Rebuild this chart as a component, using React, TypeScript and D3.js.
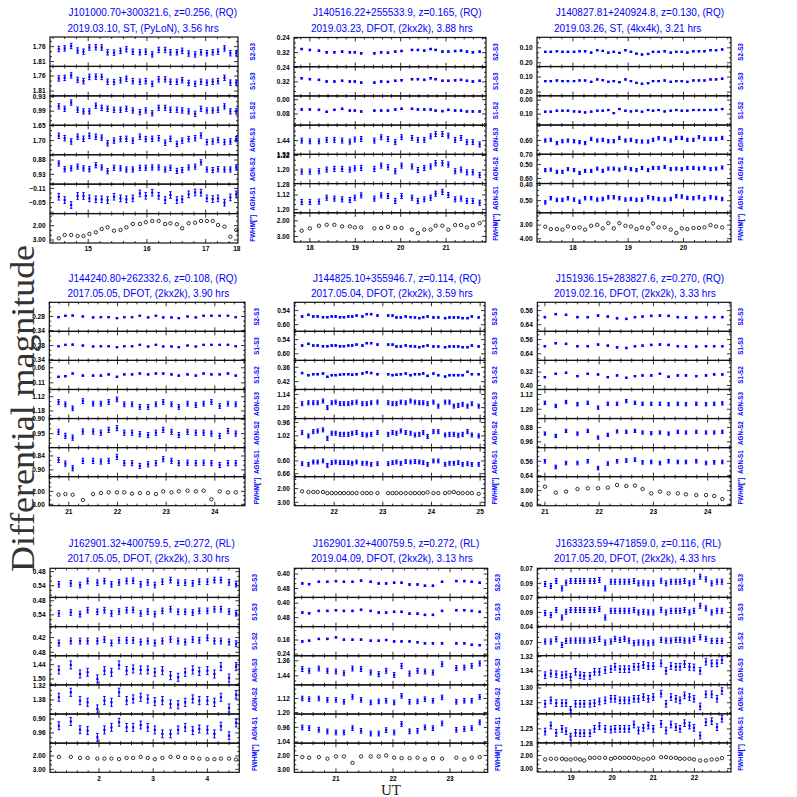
import React from 'react';
import * as d3 from 'd3';

const rowLabels = ['S2-S3', 'S1-S3', 'S1-S2', 'AGN-S3', 'AGN-S2', 'AGN-S1', 'FWHM[″]'];
const yAxisTitle = 'Differential magnitude';
const xAxisTitle = 'UT';

// ---------- Panel 1 ----------
const p1Title = 'J101000.70+300321.6, z=0.256, (RQ)';
const p1Sub = '2019.03.10, ST, (PyLoN), 3.56 hrs';
const p1Time = [14.50,14.60,14.71,14.82,14.92,15.02,15.13,15.23,15.33,15.44,15.55,15.65,15.76,15.88,15.98,16.09,16.20,16.31,16.40,16.51,16.60,16.71,16.82,16.92,17.02,17.12,17.21,17.32,17.42,17.52];
const p1S23 = [1.768,1.766,1.758,1.773,1.777,1.763,1.762,1.763,1.779,1.780,1.774,1.769,1.777,1.779,1.777,1.786,1.771,1.771,1.779,1.779,1.774,1.783,1.786,1.779,1.782,1.779,1.777,1.766,1.782,1.782];
const p1S12 = [0.970,0.980,0.954,0.984,0.991,0.991,0.967,0.976,0.980,0.984,0.984,0.980,0.987,0.994,0.987,0.999,0.976,0.976,0.984,0.984,0.987,0.991,1.001,0.980,0.987,0.987,0.984,0.970,0.991,0.991];
const p1A3 = [1.684,1.692,1.703,1.687,1.694,1.684,1.687,1.690,1.709,1.700,1.695,1.694,1.700,1.687,1.695,1.694,1.692,1.707,1.694,1.711,1.700,1.695,1.692,1.683,1.705,1.703,1.698,1.705,1.703,1.695];
const p1A2 = [0.892,0.912,0.909,0.903,0.909,0.912,0.898,0.906,0.919,0.907,0.909,0.913,0.913,0.907,0.907,0.906,0.906,0.913,0.907,0.918,0.915,0.906,0.903,0.888,0.913,0.915,0.912,0.913,0.913,0.906];
const p1A1 = [-0.075,-0.061,-0.040,-0.078,-0.078,-0.068,-0.064,-0.064,-0.061,-0.075,-0.068,-0.064,-0.068,-0.089,-0.079,-0.092,-0.079,-0.061,-0.082,-0.061,-0.064,-0.085,-0.093,-0.092,-0.068,-0.065,-0.068,-0.050,-0.072,-0.085];
const p1Fwhm = [2.88,2.65,2.65,2.72,2.72,2.58,2.46,2.23,2.11,2.35,2.30,2.11,1.88,1.88,1.76,1.67,1.67,1.88,1.83,1.90,2.18,1.83,1.79,1.67,1.67,1.67,1.95,2.07,2.77,2.30];
const p1Err = [0.009, 0.011, 0.009, 0.009, 0.014];
const p1XDomain = [14.35, 17.55];
const p1XTicks = [15, 16, 17, 17.53];
const p1XLabels = ['15', '16', '17', '18'];
const p1YDomains = [[1.728, 1.826], [0.926, 1.049], [1.649, 1.747], [0.8615, 0.964], [-0.128, -0.004], [1.153, 3.21]];
const p1YTicks = [[1.76, 1.81], [0.93, 0.99], [1.65, 1.70], [0.88, 0.93], [-0.11, -0.05], [2, 3]];

// ---------- Panel 2 ----------
const p2Title = 'J140516.22+255533.9, z=0.165, (RQ)';
const p2Sub = '2019.03.23, DFOT, (2kx2k), 3.88 hrs';
const p2Time = [17.82,18.00,18.20,18.37,18.54,18.71,18.88,18.99,19.13,19.42,19.57,19.72,19.88,20.02,20.25,20.38,20.52,20.66,20.77,20.92,21.05,21.20,21.33,21.46,21.59,21.74];
const p2S23 = [0.300,0.305,0.309,0.318,0.318,0.314,0.318,0.318,0.324,0.324,0.318,0.320,0.314,0.311,0.305,0.305,0.309,0.300,0.305,0.314,0.314,0.311,0.309,0.314,0.318,0.314];
const p2S12 = [0.055,0.055,0.057,0.068,0.057,0.051,0.061,0.061,0.066,0.061,0.061,0.061,0.055,0.051,0.051,0.055,0.055,0.055,0.061,0.064,0.057,0.061,0.061,0.066,0.066,0.066];
const p2A3 = [1.440,1.444,1.444,1.436,1.436,1.440,1.446,1.434,1.431,1.440,1.421,1.431,1.449,1.421,1.425,1.436,1.436,1.416,1.403,1.403,1.412,1.436,1.425,1.449,1.449,1.462];
const p2A2 = [1.209,1.209,1.207,1.198,1.194,1.194,1.198,1.191,1.189,1.194,1.176,1.185,1.207,1.176,1.181,1.200,1.189,1.181,1.163,1.163,1.170,1.207,1.198,1.213,1.213,1.228];
const p2A1 = [1.159,1.159,1.157,1.135,1.140,1.144,1.148,1.135,1.122,1.140,1.122,1.126,1.153,1.126,1.135,1.153,1.144,1.135,1.113,1.103,1.120,1.144,1.140,1.153,1.153,1.163];
const p2Fwhm = [2.63,2.48,2.31,2.25,2.25,2.35,2.35,2.42,2.42,2.48,2.46,2.38,2.46,2.46,2.56,2.79,2.56,2.56,2.31,2.31,2.56,2.27,2.27,2.42,2.27,2.15];
const p2Err = [0.004, 0.004, 0.014, 0.014, 0.014];
const p2XDomain = [17.65, 21.88];
const p2XTicks = [18, 19, 20, 21];
const p2XLabels = ['18', '19', '20', '21'];
const p2YDomains = [[0.236, 0.398], [-0.021, 0.1425], [1.3526, 1.518], [1.1144, 1.2744], [1.0568, 1.2186], [1.479, 3.354]];
const p2YTicks = [[0.24, 0.32], [0.00, 0.08], [1.44, 1.52], [1.12, 1.20, 1.28], [1.12, 1.20], [2, 3]];

// ---------- Panel 3 ----------
const p3Title = 'J140827.81+240924.8, z=0.130, (RQ)';
const p3Sub = '2019.03.26, ST, (4kx4k), 3.21 hrs';
const p3Time = [17.50,17.60,17.71,17.81,17.91,18.02,18.12,18.22,18.33,18.44,18.54,18.64,18.74,18.84,18.95,19.05,19.15,19.25,19.36,19.45,19.55,19.66,19.77,19.87,19.97,20.07,20.18,20.28,20.38,20.49,20.59,20.70];
const p3S23 = [0.127,0.127,0.123,0.127,0.127,0.127,0.123,0.123,0.132,0.116,0.121,0.132,0.127,0.134,0.116,0.127,0.139,0.145,0.141,0.127,0.127,0.123,0.132,0.127,0.127,0.132,0.123,0.123,0.123,0.116,0.116,0.111];
const p3S12 = [0.083,0.083,0.076,0.076,0.076,0.081,0.083,0.088,0.083,0.076,0.076,0.071,0.093,0.064,0.076,0.081,0.076,0.083,0.071,0.076,0.071,0.081,0.076,0.071,0.076,0.076,0.071,0.071,0.071,0.071,0.069,0.064];
const p3A3 = [0.600,0.595,0.618,0.605,0.600,0.605,0.611,0.618,0.589,0.600,0.595,0.605,0.605,0.582,0.600,0.595,0.605,0.607,0.607,0.595,0.584,0.589,0.600,0.582,0.582,0.595,0.595,0.577,0.589,0.589,0.589,0.582];
const p3A2 = [0.540,0.536,0.552,0.552,0.533,0.540,0.560,0.545,0.545,0.529,0.545,0.529,0.529,0.536,0.524,0.533,0.540,0.524,0.540,0.524,0.524,0.517,0.533,0.529,0.533,0.524,0.524,0.529,0.524,0.533,0.529,0.521];
const p3A1 = [0.511,0.484,0.495,0.495,0.484,0.493,0.507,0.484,0.484,0.493,0.489,0.478,0.478,0.484,0.493,0.489,0.495,0.493,0.478,0.484,0.489,0.493,0.489,0.471,0.473,0.482,0.484,0.478,0.489,0.478,0.482,0.489];
const p3Fwhm = [3.12,3.29,3.29,3.33,3.10,3.21,3.17,3.33,3.05,2.98,3.24,2.86,3.24,2.86,3.05,3.10,3.29,3.17,3.24,2.88,3.17,3.17,3.33,3.57,3.24,3.29,3.21,3.21,3.17,3.00,3.10,3.17];
const p3Err = [0.004, 0.004, 0.011, 0.011, 0.011];
const p3XDomain = [17.35, 20.86];
const p3XTicks = [18, 19, 20];
const p3XLabels = ['18', '19', '20'];
const p3YDomains = [[0.03, 0.225], [-0.031, 0.1785], [0.493, 0.695], [0.426, 0.636], [0.389, 0.578], [2.095, 4.238]];
const p3YTicks = [[0.10, 0.20], [0.00, 0.10], [0.60, 0.70], [0.50, 0.60], [0.40, 0.50], [3, 4]];

// ---------- Panel 4 ----------
const p4Title = 'J144240.80+262332.6, z=0.108, (RQ)';
const p4Sub = '2017.05.05, DFOT, (2kx2k), 3.90 hrs';
const p4Time = [20.79,20.93,21.08,21.29,21.50,21.66,21.82,21.99,22.14,22.30,22.46,22.63,22.79,22.94,23.11,23.26,23.44,23.61,23.77,23.93,24.10,24.27,24.43];
const p4S23 = [0.283,0.277,0.276,0.280,0.284,0.283,0.283,0.287,0.283,0.283,0.277,0.284,0.277,0.284,0.284,0.287,0.280,0.284,0.277,0.277,0.277,0.277,0.283];
const p4S12 = [0.090,0.088,0.079,0.086,0.086,0.086,0.082,0.090,0.082,0.082,0.079,0.082,0.079,0.079,0.082,0.086,0.082,0.086,0.079,0.082,0.082,0.079,0.086];
const p4A3 = [1.142,1.152,1.169,1.138,1.149,1.149,1.142,1.131,1.152,1.152,1.163,1.163,1.152,1.142,1.152,1.163,1.149,1.155,1.149,1.142,1.159,1.149,1.152];
const p4A2 = [0.944,0.958,0.964,0.943,0.943,0.947,0.937,0.931,0.947,0.947,0.952,0.955,0.947,0.937,0.944,0.955,0.944,0.947,0.947,0.950,0.958,0.941,0.950];
const p4A1 = [0.857,0.873,0.893,0.861,0.861,0.864,0.861,0.844,0.871,0.871,0.883,0.876,0.871,0.854,0.861,0.871,0.869,0.871,0.869,0.871,0.879,0.871,0.871];
const p4Fwhm = [2.26,2.21,2.26,2.66,2.21,2.13,2.08,2.08,2.08,2.18,2.13,2.13,2.21,2.00,2.08,2.00,1.95,2.00,1.95,2.61,2.00,2.08,2.08];
const p4Err = [0.002, 0.002, 0.010, 0.009, 0.011];
const p4XDomain = [20.60, 24.62];
const p4XTicks = [21, 22, 23, 24];
const p4XLabels = ['21', '22', '23', '24'];
const p4YDomains = [[0.22, 0.343], [0.0356, 0.132], [1.089, 1.212], [0.8977, 0.9986], [0.804, 0.929], [0.868, 3.105]];
const p4YTicks = [[0.28, 0.34], [0.06, 0.11], [1.12, 1.18], [0.90, 0.95], [0.84, 0.90], [2, 3]];

// ---------- Panel 5 ----------
const p5Title = 'J144825.10+355946.7, z=0.114, (RQ)';
const p5Sub = '2017.05.04, DFOT, (2kx2k), 3.59 hrs';
const p5Time = [21.34,21.47,21.57,21.66,21.77,21.86,21.95,22.03,22.12,22.20,22.29,22.37,22.46,22.58,22.67,22.76,22.89,23.11,23.20,23.28,23.37,23.47,23.57,23.66,23.75,23.83,23.92,24.04,24.14,24.28,24.37,24.46,24.55,24.64,24.74,24.83,24.97];
const p5S23 = [0.565,0.558,0.565,0.565,0.568,0.568,0.565,0.565,0.568,0.568,0.565,0.565,0.561,0.565,0.555,0.555,0.561,0.561,0.561,0.569,0.569,0.565,0.568,0.569,0.572,0.568,0.565,0.569,0.569,0.572,0.569,0.569,0.569,0.572,0.572,0.565,0.569];
const p5S12 = [0.384,0.393,0.389,0.389,0.386,0.400,0.393,0.393,0.391,0.389,0.389,0.391,0.389,0.386,0.381,0.384,0.389,0.389,0.393,0.391,0.389,0.386,0.393,0.389,0.389,0.386,0.396,0.386,0.393,0.399,0.393,0.393,0.393,0.393,0.379,0.389,0.389];
const p5A3 = [1.182,1.178,1.178,1.178,1.170,1.200,1.178,1.175,1.182,1.182,1.182,1.178,1.175,1.182,1.182,1.178,1.175,1.178,1.182,1.182,1.175,1.178,1.170,1.175,1.178,1.178,1.182,1.175,1.193,1.175,1.175,1.193,1.190,1.185,1.193,1.182,1.193];
const p5A2 = [1.005,1.020,1.001,0.998,0.993,1.031,1.008,1.008,1.013,1.013,1.013,1.008,1.005,1.013,1.016,1.013,1.005,1.013,1.005,1.008,0.998,1.005,1.008,1.016,1.013,1.005,1.023,1.001,1.001,1.016,1.013,1.013,1.017,1.013,1.001,1.016,1.020];
const p5A1 = [0.613,0.616,0.605,0.605,0.600,0.621,0.608,0.605,0.608,0.608,0.608,0.611,0.605,0.611,0.611,0.616,0.613,0.613,0.608,0.605,0.611,0.603,0.605,0.603,0.605,0.608,0.616,0.600,0.600,0.616,0.611,0.611,0.608,0.616,0.613,0.616,0.616];
const p5Fwhm = [2.20,2.25,2.25,2.25,2.25,2.33,2.33,2.33,2.33,2.33,2.33,2.33,2.33,2.33,2.33,2.33,2.33,2.33,2.33,2.33,2.33,2.33,2.33,2.33,2.33,2.33,2.28,2.33,2.33,2.33,2.28,2.25,2.33,2.33,2.33,2.33,2.38];
const p5Err = [0.003, 0.003, 0.009, 0.009, 0.009];
const p5XDomain = [21.18, 25.10];
const p5XTicks = [22, 23, 24, 25];
const p5XLabels = ['22', '23', '24', '25'];
const p5YDomains = [[0.505, 0.628], [0.331, 0.453], [1.1175, 1.2495], [0.942, 1.0725], [0.537, 0.674], [1.125, 3.25]];
const p5YTicks = [[0.54, 0.60], [0.36, 0.42], [1.14, 1.20], [0.96, 1.02], [0.60, 0.66], [2, 3]];

// ---------- Panel 6 ----------
const p6Title = 'J151936.15+283827.6, z=0.270, (RQ)';
const p6Sub = '2019.02.16, DFOT, (2kx2k), 3.33 hrs';
const p6Time = [21.00,21.20,21.39,21.60,21.79,21.98,22.16,22.33,22.50,22.66,22.80,22.96,23.12,23.28,23.45,23.60,23.79,23.97,24.12,24.27];
const p6S23 = [0.597,0.580,0.584,0.597,0.597,0.588,0.594,0.603,0.607,0.597,0.594,0.590,0.588,0.590,0.597,0.599,0.599,0.597,0.597,0.597];
const p6S12 = [0.350,0.330,0.324,0.344,0.330,0.334,0.350,0.340,0.354,0.344,0.340,0.340,0.330,0.348,0.340,0.340,0.344,0.340,0.334,0.334];
const p6A3 = [1.165,1.182,1.161,1.173,1.165,1.191,1.170,1.170,1.156,1.165,1.170,1.170,1.170,1.173,1.170,1.173,1.170,1.173,1.170,1.168];
const p6A2 = [0.914,0.927,0.899,0.914,0.899,0.936,0.921,0.902,0.904,0.899,0.908,0.912,0.908,0.914,0.904,0.908,0.904,0.908,0.908,0.904];
const p6A1 = [0.560,0.592,0.570,0.570,0.560,0.598,0.573,0.560,0.556,0.551,0.566,0.564,0.570,0.560,0.564,0.564,0.560,0.570,0.566,0.564];
const p6Fwhm = [2.71,3.15,3.07,2.88,2.83,2.83,2.78,2.59,2.66,2.63,2.88,3.20,3.07,3.20,3.20,3.27,3.32,3.32,3.39,3.61];
const p6Err = [0.004, 0.004, 0.009, 0.009, 0.010];
const p6XDomain = [20.86, 24.43];
const p6XTicks = [21, 22, 23, 24];
const p6XLabels = ['21', '22', '23', '24'];
const p6YDomains = [[0.5135, 0.677], [0.25, 0.424], [1.093, 1.25], [0.83, 0.992], [0.484, 0.6455], [1.976, 4.098]];
const p6YTicks = [[0.56, 0.64], [0.32, 0.40], [1.12, 1.20], [0.88, 0.96], [0.56, 0.64], [3, 4]];

// ---------- Panel 7 ----------
const p7Title = 'J162901.32+400759.5, z=0.272, (RL)';
const p7Sub = '2017.05.05, DFOT, (2kx2k), 3.30 hrs';
const p7Time = [1.26,1.48,1.65,1.79,1.97,2.10,2.23,2.37,2.51,2.63,2.77,2.90,3.03,3.17,3.32,3.46,3.59,3.73,3.85,4.00,4.13,4.25,4.40,4.53];
const p7S23 = [0.534,0.530,0.537,0.520,0.527,0.520,0.534,0.526,0.520,0.519,0.534,0.526,0.537,0.523,0.516,0.527,0.527,0.530,0.523,0.523,0.516,0.516,0.526,0.533];
const p7S12 = [0.442,0.434,0.434,0.434,0.434,0.428,0.442,0.431,0.431,0.431,0.438,0.434,0.442,0.434,0.427,0.434,0.438,0.428,0.431,0.421,0.434,0.434,0.438,0.445];
const p7A3 = [1.462,1.441,1.479,1.472,1.500,1.465,1.472,1.441,1.465,1.458,1.462,1.462,1.472,1.465,1.486,1.493,1.472,1.462,1.468,1.465,1.479,1.448,1.496,1.448];
const p7A2 = [1.369,1.348,1.383,1.390,1.418,1.383,1.390,1.348,1.383,1.376,1.369,1.376,1.387,1.383,1.397,1.400,1.390,1.376,1.383,1.383,1.390,1.369,1.414,1.358];
const p7A1 = [0.929,0.911,0.946,0.950,0.979,0.947,0.936,0.914,0.936,0.936,0.926,0.936,0.947,0.964,0.964,0.947,0.936,0.950,0.943,0.947,0.964,0.931,0.972,0.917];
const p7Fwhm = [2.07,2.07,2.15,2.15,2.20,2.20,2.20,2.24,2.15,2.15,2.07,2.15,2.24,2.15,2.07,2.07,2.15,2.15,2.20,2.24,2.24,2.20,2.20,2.27];
const p7Err = [0.012, 0.012, 0.017, 0.017, 0.017];
const p7XDomain = [1.096, 4.589];
const p7XTicks = [2, 3, 4];
const p7XLabels = ['2', '3', '4'];
const p7YDomains = [[0.4657, 0.59], [0.375, 0.494], [1.402, 1.525], [1.317, 1.439], [0.8786, 1.004], [1.049, 3.22]];
const p7YTicks = [[0.48, 0.54], [0.42, 0.48], [1.44, 1.50], [1.32, 1.38], [0.90, 0.96], [2, 3]];

// ---------- Panel 8 ----------
const p8Title = 'J162901.32+400759.5, z=0.272, (RL)';
const p8Sub = '2019.04.09, DFOT, (2kx2k), 3.13 hrs';
const p8Time = [20.41,20.53,20.70,20.85,21.00,21.14,21.29,21.44,21.61,21.75,21.88,22.02,22.15,22.29,22.43,22.56,22.70,22.86,23.11,23.25,23.38,23.52];
const p8S23 = [0.452,0.456,0.443,0.443,0.439,0.443,0.443,0.437,0.443,0.452,0.452,0.448,0.448,0.458,0.458,0.465,0.465,0.443,0.439,0.439,0.443,0.448];
const p8S12 = [0.168,0.164,0.154,0.154,0.145,0.158,0.158,0.158,0.164,0.164,0.160,0.168,0.168,0.168,0.173,0.179,0.179,0.179,0.179,0.179,0.187,0.189];
const p8A3 = [1.404,1.413,1.401,1.413,1.417,1.426,1.401,1.404,1.422,1.431,1.413,1.435,1.387,1.428,1.413,1.417,1.422,1.378,1.399,1.396,1.387,1.374];
const p8A2 = [1.120,1.124,1.120,1.128,1.128,1.139,1.111,1.128,1.143,1.137,1.133,1.143,1.105,1.139,1.137,1.124,1.133,1.114,1.139,1.133,1.133,1.111];
const p8A1 = [0.960,0.964,0.973,0.982,0.988,0.988,0.964,0.979,0.994,0.994,0.975,0.988,0.941,0.982,0.979,0.960,0.964,0.938,0.973,0.969,0.964,0.932];
const p8Fwhm = [2.12,2.16,2.12,2.23,2.07,2.07,2.53,2.07,2.07,2.07,2.00,2.16,2.19,2.19,2.16,2.28,2.19,2.23,2.16,2.28,2.16,2.12];
const p8Err = [0.004, 0.004, 0.013, 0.013, 0.013];
const p8XDomain = [20.27, 23.66];
const p8XTicks = [21, 22, 23];
const p8XLabels = ['21', '22', '23'];
const p8YDomains = [[0.368, 0.530], [0.084, 0.249], [1.333, 1.488], [1.042, 1.209], [0.8856, 1.0474], [1.116, 3.209]];
const p8YTicks = [[0.40, 0.48], [0.16, 0.24], [1.36, 1.44], [1.12, 1.20], [0.96, 1.04], [2, 3]];

// ---------- Panel 9 ----------
const p9Title = 'J163323.59+471859.0, z=0.116, (RL)';
const p9Sub = '2017.05.20, DFOT, (2kx2k), 4.33 hrs';
const p9Time = [18.37,18.51,18.64,18.78,18.88,18.99,19.11,19.22,19.32,19.46,19.57,19.69,19.83,19.97,20.07,20.19,20.30,20.41,20.53,20.64,20.76,20.88,21.00,21.19,21.31,21.43,21.55,21.65,21.76,21.88,21.99,22.14,22.28,22.42,22.55,22.67];
const p9S23 = [0.0909,0.0937,0.0867,0.0970,0.0891,0.0867,0.0867,0.0867,0.0867,0.0867,0.0867,0.0853,0.0970,0.0877,0.0877,0.0877,0.0877,0.0877,0.0867,0.0900,0.0891,0.0900,0.0900,0.0863,0.0900,0.0877,0.0877,0.0877,0.0867,0.0900,0.0877,0.0807,0.0844,0.0900,0.0877,0.0877];
const p9S12 = [0.0680,0.0680,0.0635,0.0746,0.0667,0.0661,0.0661,0.0661,0.0661,0.0661,0.0648,0.0628,0.0700,0.0680,0.0628,0.0648,0.0628,0.0661,0.0713,0.0700,0.0700,0.0713,0.0700,0.0648,0.0661,0.0661,0.0648,0.0648,0.0661,0.0661,0.0628,0.0596,0.0628,0.0667,0.0667,0.0667];
const p9A3 = [1.3462,1.3438,1.3448,1.3462,1.3452,1.3486,1.3414,1.3462,1.3471,1.3471,1.3414,1.3414,1.3390,1.3376,1.3343,1.3376,1.3376,1.3376,1.3343,1.3343,1.3319,1.3333,1.3333,1.3295,1.3400,1.3333,1.3343,1.3343,1.3305,1.3343,1.3352,1.3400,1.3271,1.3295,1.3295,1.3248];
const p9A2 = [1.3214,1.3168,1.3205,1.3205,1.3205,1.3296,1.3214,1.3214,1.3214,1.3214,1.3205,1.3182,1.3168,1.3146,1.3146,1.3168,1.3168,1.3168,1.3146,1.3146,1.3123,1.3146,1.3123,1.3077,1.3214,1.3123,1.3146,1.3168,1.3100,1.3123,1.3146,1.3250,1.3086,1.3086,1.3146,1.3041];
const p9A1 = [1.2555,1.2432,1.2582,1.2500,1.2548,1.2657,1.2582,1.2589,1.2589,1.2589,1.2500,1.2445,1.2500,1.2514,1.2500,1.2500,1.2500,1.2500,1.2411,1.2534,1.2480,1.2432,1.2500,1.2398,1.2534,1.2411,1.2466,1.2500,1.2384,1.2432,1.2480,1.2636,1.2364,1.2343,1.2466,1.2295];
const p9Fwhm = [2.30,2.25,2.25,2.25,2.30,2.30,2.25,2.30,2.38,2.18,2.18,2.18,2.18,2.25,2.18,2.18,2.18,2.18,2.18,2.25,2.30,2.25,2.18,2.13,2.13,2.18,2.18,2.25,2.25,2.25,2.30,2.38,2.38,2.30,2.30,2.20];
const p9Err = [0.0035, 0.005, 0.0047, 0.0045, 0.0068];
const p9XDomain = [18.18, 22.89];
const p9XTicks = [19, 20, 21, 22];
const p9XLabels = ['19', '20', '21', '22'];
const p9YDomains = [[0.0691, 0.1095], [0.0387, 0.0954], [1.3186, 1.3595], [1.2955, 1.335], [1.2193, 1.2786], [1.05, 3.25]];
const p9YTicks = [[0.07, 0.09], [0.04, 0.07], [1.32, 1.34], [1.30, 1.32], [1.25, 1.28], [2, 3]];

// ---------- assemble ----------
const panels = [
  { title: p1Title, sub: p1Sub, time: p1Time, s23: p1S23, s12: p1S12, a3: p1A3, a2: p1A2, a1: p1A1, fwhm: p1Fwhm, err: p1Err, xDomain: p1XDomain, xTicks: p1XTicks, xLabels: p1XLabels, yDomains: p1YDomains, yTicks: p1YTicks },
  { title: p2Title, sub: p2Sub, time: p2Time, s23: p2S23, s12: p2S12, a3: p2A3, a2: p2A2, a1: p2A1, fwhm: p2Fwhm, err: p2Err, xDomain: p2XDomain, xTicks: p2XTicks, xLabels: p2XLabels, yDomains: p2YDomains, yTicks: p2YTicks },
  { title: p3Title, sub: p3Sub, time: p3Time, s23: p3S23, s12: p3S12, a3: p3A3, a2: p3A2, a1: p3A1, fwhm: p3Fwhm, err: p3Err, xDomain: p3XDomain, xTicks: p3XTicks, xLabels: p3XLabels, yDomains: p3YDomains, yTicks: p3YTicks },
  { title: p4Title, sub: p4Sub, time: p4Time, s23: p4S23, s12: p4S12, a3: p4A3, a2: p4A2, a1: p4A1, fwhm: p4Fwhm, err: p4Err, xDomain: p4XDomain, xTicks: p4XTicks, xLabels: p4XLabels, yDomains: p4YDomains, yTicks: p4YTicks },
  { title: p5Title, sub: p5Sub, time: p5Time, s23: p5S23, s12: p5S12, a3: p5A3, a2: p5A2, a1: p5A1, fwhm: p5Fwhm, err: p5Err, xDomain: p5XDomain, xTicks: p5XTicks, xLabels: p5XLabels, yDomains: p5YDomains, yTicks: p5YTicks },
  { title: p6Title, sub: p6Sub, time: p6Time, s23: p6S23, s12: p6S12, a3: p6A3, a2: p6A2, a1: p6A1, fwhm: p6Fwhm, err: p6Err, xDomain: p6XDomain, xTicks: p6XTicks, xLabels: p6XLabels, yDomains: p6YDomains, yTicks: p6YTicks },
  { title: p7Title, sub: p7Sub, time: p7Time, s23: p7S23, s12: p7S12, a3: p7A3, a2: p7A2, a1: p7A1, fwhm: p7Fwhm, err: p7Err, xDomain: p7XDomain, xTicks: p7XTicks, xLabels: p7XLabels, yDomains: p7YDomains, yTicks: p7YTicks },
  { title: p8Title, sub: p8Sub, time: p8Time, s23: p8S23, s12: p8S12, a3: p8A3, a2: p8A2, a1: p8A1, fwhm: p8Fwhm, err: p8Err, xDomain: p8XDomain, xTicks: p8XTicks, xLabels: p8XLabels, yDomains: p8YDomains, yTicks: p8YTicks },
  { title: p9Title, sub: p9Sub, time: p9Time, s23: p9S23, s12: p9S12, a3: p9A3, a2: p9A2, a1: p9A1, fwhm: p9Fwhm, err: p9Err, xDomain: p9XDomain, xTicks: p9XTicks, xLabels: p9XLabels, yDomains: p9YDomains, yTicks: p9YTicks },
];

// layout (pixel boxes of each panel's plotting area)
const frames = [
  { l: 50, r: 238, t: 37, b: 243, gap: 15 },
  { l: 294, r: 486, t: 37.5, b: 242, gap: 10 },
  { l: 537, r: 731, t: 37.3, b: 242, gap: 10 },
  { l: 49.3, r: 245, t: 302.3, b: 505.7, gap: 12 },
  { l: 294.3, r: 485, t: 302.3, b: 505.7, gap: 10 },
  { l: 537.3, r: 731, t: 302.3, b: 505.7, gap: 10 },
  { l: 50, r: 239.3, t: 568.3, b: 772.3, gap: 15 },
  { l: 294.3, r: 487.7, t: 568.3, b: 772.3, gap: 10 },
  { l: 537.3, r: 731, t: 568.3, b: 772, gap: 10 },
];
const titleY = [[16.3, 31.9], [281.7, 296.9], [546.7, 561.9]];
const titleX = [[68.5, 67.5], [313, 311], [555.7, 554]];

const BLUE = '#0000ff';
const SANS = '"Liberation Sans", Arial, sans-serif';
const fmt = d3.format('.2f');

function Panel({ p, f, tx, ty }: any) {
  const x = d3.scaleLinear().domain(p.xDomain).range([f.l, f.r]);
  const h = (f.b - f.t) / 7;
  const series = [p.s23, p.s23, p.s12, p.a3, p.a2, p.a1, p.fwhm];
  const domIdx = [0, 0, 1, 2, 3, 4, 5];
  const [xlo, xhi] = p.xDomain;
  const xMajor = d3.range(Math.ceil(xlo), Math.floor(xhi) + 1, 1);
  const xMinor = d3.range(Math.ceil(xlo * 5), Math.floor(xhi * 5) + 1)
    .map((k: number) => k / 5)
    .filter((v: number) => Math.abs(v - Math.round(v)) > 0.01);

  return (
    <g>
      <text x={tx[0]} y={ty[0]} fill={BLUE} fontFamily={SANS} fontSize={10}>{p.title}</text>
      <text x={tx[1]} y={ty[1]} fill={BLUE} fontFamily={SANS} fontSize={10}>{p.sub}</text>
      {series.map((vals: number[], i: number) => {
        const top = f.t + i * h;
        const bot = top + h;
        const di = domIdx[i];
        const dom = p.yDomains[di];
        const y = d3.scaleLinear().domain(dom).range([top, bot]);
        const ticks: number[] = p.yTicks[di];
        const step = (ticks[1] - ticks[0]) / 3;
        const lo = Math.min(dom[0], dom[1]);
        const hi = Math.max(dom[0], dom[1]);
        const yMinor = d3.range(Math.ceil((lo - ticks[0]) / step), Math.floor((hi - ticks[0]) / step) + 1)
          .map((k: number) => ticks[0] + k * step)
          .filter((v: number) => !ticks.some((t) => Math.abs(t - v) < step * 0.1));
        const isFwhm = i === 6;
        const e = isFwhm ? 0 : p.err[[0, 0, 1, 2, 3, 4][i]];
        let tickPath = '';
        xMajor.forEach((v: number) => {
          const xx = x(v);
          tickPath += `M${xx},${top}v4M${xx},${bot}v-4`;
        });
        xMinor.forEach((v: number) => {
          const xx = x(v);
          tickPath += `M${xx},${top}v2M${xx},${bot}v-2`;
        });
        ticks.forEach((v: number) => {
          const yy = y(v);
          if (yy >= top - 0.5 && yy <= bot + 0.5) tickPath += `M${f.l},${yy}h4M${f.r},${yy}h-4`;
        });
        yMinor.forEach((v: number) => {
          const yy = y(v);
          tickPath += `M${f.l},${yy}h2M${f.r},${yy}h-2`;
        });
        let barPath = '';
        if (!isFwhm) {
          vals.forEach((v: number, j: number) => {
            const cx = x(p.time[j]);
            const y0 = y(v - e);
            const y1 = y(v + e);
            barPath += `M${cx},${y0}V${y1}M${cx - 1.3},${y0}h2.6M${cx - 1.3},${y1}h2.6`;
          });
        }
        return (
          <g key={i}>
            <rect x={f.l} y={top} width={f.r - f.l} height={h} fill="none" stroke="#111" strokeWidth={1.2} />
            <path d={tickPath} stroke="#000" strokeWidth={0.8} fill="none" />
            {ticks.map((t: number) => (
              <text key={t} x={f.l - 4.5} y={y(t)} dy="0.35em" textAnchor="end" fontFamily={SANS} fontSize={6.5} fontWeight="bold" fill="#000">{fmt(t)}</text>
            ))}
            <text transform={`translate(${f.r + f.gap},${top + h / 2}) rotate(-90)`} textAnchor="middle" dy="0.35em" fontFamily={SANS} fontSize={6.3} fontWeight="bold" fill={BLUE}>{rowLabels[i]}</text>
            {isFwhm
              ? vals.map((v: number, j: number) => (
                  <circle key={j} cx={x(p.time[j])} cy={y(v)} r={1.7} fill="none" stroke="#000" strokeWidth={0.8} />
                ))
              : (
                <g>
                  <path d={barPath} stroke={BLUE} strokeWidth={1} fill="none" />
                  {vals.map((v: number, j: number) => (
                    <rect key={j} x={x(p.time[j]) - 1.1} y={y(v) - 1.1} width={2.2} height={2.2} fill={BLUE} />
                  ))}
                </g>
              )}
          </g>
        );
      })}
      {p.xTicks.map((t: number, k: number) => (
        <text key={k} x={x(t)} y={f.b + 8.2} textAnchor="middle" fontFamily={SANS} fontSize={6.5} fontWeight="bold" fill="#000">{p.xLabels[k]}</text>
      ))}
    </g>
  );
}

export default function App() {
  return (
    <svg width={797} height={797} viewBox="0 0 797 797" style={{ position: 'absolute', left: 0, top: 0, background: '#fff' }}>
      <rect x={0} y={0} width={797} height={797} fill="#fff" />
      {panels.map((p, i) => (
        <Panel key={i} p={p} f={frames[i]} tx={titleX[i % 3]} ty={titleY[Math.floor(i / 3)]} />
      ))}
      <text transform="translate(34,408.5) rotate(-90)" textAnchor="middle" fontFamily='"Liberation Serif", serif' fontSize={34} textLength={327} lengthAdjust="spacingAndGlyphs" fill="#333">{yAxisTitle}</text>
      <text x={391} y={795} textAnchor="middle" fontFamily='"Liberation Serif", serif' fontSize={15} fill="#222">{xAxisTitle}</text>
    </svg>
  );
}
